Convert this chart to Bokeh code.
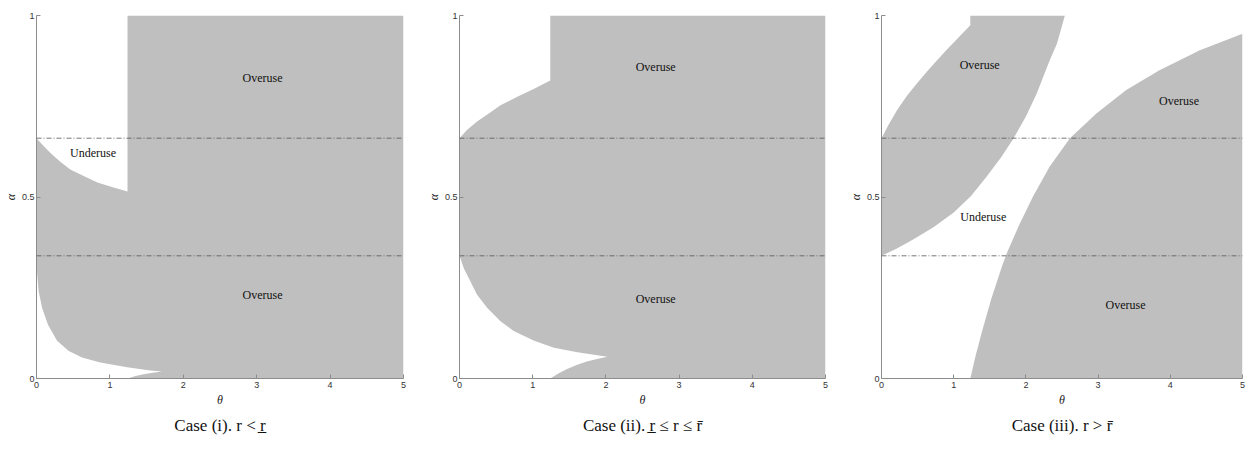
from bokeh.plotting import figure
from bokeh.models import Range1d, Span, Title, FixedTicker
from bokeh.layouts import row
from bokeh.core.properties import value
from bokeh.embed import file_html
from bokeh.resources import INLINE

# ---------------- data ----------------
x_ticks = [0, 1, 2, 3, 4, 5]
y_ticks = [0, 0.5, 1]
y_tick_labels = {0: "0", 0.5: "0.5", 1: "1"}
alpha_levels = [0.338, 0.662]

# Case (i)
p1_upper_theta = [0, 0.10, 0.19, 0.32, 0.46, 0.65, 0.83, 1.05, 1.24]
p1_upper_alpha = [0.662, 0.640, 0.621, 0.598, 0.576, 0.557, 0.540, 0.526, 0.515]
p1_lower_theta = [0, 0.01, 0.03, 0.077, 0.155, 0.28, 0.44, 0.62, 0.87, 1.235, 1.55, 1.71]
p1_lower_alpha = [0.338, 0.285, 0.240, 0.194, 0.149, 0.104, 0.076, 0.058, 0.044, 0.031, 0.022, 0.019]
p1_rise_theta = [1.24, 1.35, 1.46, 1.58, 1.71]
p1_rise_alpha = [0.0, 0.007, 0.012, 0.016, 0.019]
p1_label_text = ["Overuse", "Underuse", "Overuse"]
p1_label_theta = [3.08, 0.77, 3.08]
p1_label_alpha = [0.827, 0.622, 0.23]

# Case (ii)
p2_upper_theta = [0, 0.105, 0.24, 0.40, 0.56, 0.79, 1.02, 1.24]
p2_upper_alpha = [0.662, 0.685, 0.708, 0.730, 0.753, 0.776, 0.798, 0.821]
p2_lower_theta = [0, 0.06, 0.15, 0.24, 0.38, 0.56, 0.74, 1.02, 1.29, 1.61, 2.02]
p2_lower_alpha = [0.338, 0.303, 0.267, 0.231, 0.194, 0.158, 0.131, 0.104, 0.085, 0.072, 0.060]
p2_rise_theta = [1.24, 1.35, 1.47, 1.60, 1.74, 1.88, 2.02]
p2_rise_alpha = [0.0, 0.014, 0.026, 0.037, 0.047, 0.054, 0.060]
p2_label_text = ["Overuse", "Overuse"]
p2_label_theta = [2.68, 2.68]
p2_label_alpha = [0.858, 0.22]

# Case (iii)
p3_band_left_theta = [0, 0.10, 0.217, 0.35, 0.49, 0.63, 0.77, 0.91, 1.05, 1.23]
p3_band_left_alpha = [0.662, 0.700, 0.740, 0.778, 0.813, 0.846, 0.877, 0.907, 0.936, 0.973]
p3_band_right_theta = [0, 0.22, 0.45, 0.72, 1.00, 1.24, 1.46, 1.66, 1.83, 2.00, 2.15, 2.33, 2.43, 2.54]
p3_band_right_alpha = [0.338, 0.359, 0.384, 0.417, 0.457, 0.503, 0.557, 0.610, 0.662, 0.722, 0.785, 0.877, 0.922, 1.0]
p3_main_theta = [1.23, 1.30, 1.39, 1.52, 1.67, 1.74, 1.90, 2.10, 2.33, 2.61, 2.98, 3.39, 3.85, 4.41, 5.0]
p3_main_alpha = [0.0, 0.060, 0.128, 0.219, 0.310, 0.347, 0.420, 0.502, 0.584, 0.662, 0.731, 0.795, 0.849, 0.904, 0.95]
p3_label_text = ["Overuse", "Overuse", "Underuse", "Overuse"]
p3_label_theta = [1.36, 4.12, 1.41, 3.38]
p3_label_alpha = [0.863, 0.764, 0.446, 0.203]

captions = ["Case (i). r < r\u0332", "Case (ii). r\u0332 \u2264 r \u2264 r\u0304", "Case (iii). r > r\u0304"]

X0, X1, Y0, Y1 = 0, 5, 0, 1
GRAY = "#bfbfbf"
SERIF = "Liberation Serif"
H = 448


def make_fig(width, left, right, top, bottom, caption):
    p = figure(width=width, height=H, output_backend="svg", toolbar_location=None,
               x_range=Range1d(X0, X1), y_range=Range1d(Y0, Y1),
               min_border_left=left, min_border_right=right,
               min_border_top=top, min_border_bottom=bottom)
    p.outline_line_color = None
    p.grid.visible = False
    p.background_fill_color = "white"
    p.border_fill_color = "white"
    for ax in (p.xaxis[0], p.yaxis[0]):
        ax.axis_line_color = "#8c8c8c"
        ax.major_tick_line_color = "#8c8c8c"
        ax.minor_tick_line_color = None
        ax.major_tick_in = 4
        ax.major_tick_out = 0
        ax.major_label_text_font = "Liberation Sans"
        ax.major_label_text_font_size = "9px"
        ax.major_label_text_color = "#333333"
        ax.axis_label_text_font = SERIF
        ax.axis_label_text_font_style = "italic"
        ax.axis_label_text_font_size = "12px"
        ax.axis_label_text_color = "#222222"
        ax.major_label_standoff = 2
        ax.axis_label_standoff = 1
    p.xaxis.major_label_standoff = 3
    p.xaxis.axis_label_standoff = 2
    p.xaxis.ticker = FixedTicker(ticks=x_ticks)
    p.yaxis.ticker = FixedTicker(ticks=y_ticks)
    p.yaxis.major_label_overrides = y_tick_labels
    p.xaxis.axis_label = "\u03b8"
    p.yaxis.axis_label = "\u03b1"
    cap = Title(text=caption, align="center", text_font=SERIF, text_font_size="17px",
                text_font_style="normal", text_color="#111111", standoff=9)
    p.add_layout(cap, "below")
    return p


def add_levels(p):
    for lv in alpha_levels:
        p.add_layout(Span(location=lv, dimension="width", line_color="#555555",
                          line_width=0.8, line_dash="5 2 1 2"))


def add_labels(p, xs, ys, texts):
    p.text(x=xs, y=ys, text=texts, text_font=value(SERIF), text_font_size="12px",
           text_align="center", text_baseline="middle", text_color="#111111")


# ---- Case (i)
f1 = make_fig(423, 36, 20, 11, H - 378, captions[0])
xs = (p1_lower_theta + p1_rise_theta[::-1] + [X1, X1, p1_upper_theta[-1]] + p1_upper_theta[::-1])
ys = (p1_lower_alpha + p1_rise_alpha[::-1] + [Y0, Y1, Y1] + p1_upper_alpha[::-1])
f1.patch(xs, ys, fill_color=GRAY, line_color=None)
add_levels(f1)
add_labels(f1, p1_label_theta, p1_label_alpha, p1_label_text)

# ---- Case (ii)
f2 = make_fig(422, 36, 20, 11, H - 378, captions[1])
xs = (p2_lower_theta + p2_rise_theta[::-1] + [X1, X1, p2_upper_theta[-1]] + p2_upper_theta[::-1])
ys = (p2_lower_alpha + p2_rise_alpha[::-1] + [Y0, Y1, Y1] + p2_upper_alpha[::-1])
f2.patch(xs, ys, fill_color=GRAY, line_color=None)
add_levels(f2)
add_labels(f2, p2_label_theta, p2_label_alpha, p2_label_text)

# ---- Case (iii)
f3 = make_fig(402, 36, 5, 15, H - 380, captions[2])
xs = p3_band_left_theta + [p3_band_left_theta[-1]] + p3_band_right_theta[::-1]
ys = p3_band_left_alpha + [Y1] + p3_band_right_alpha[::-1]
f3.patch(xs, ys, fill_color=GRAY, line_color=None)
xs = p3_main_theta + [X1]
ys = p3_main_alpha + [Y0]
f3.patch(xs, ys, fill_color=GRAY, line_color=None)
add_levels(f3)
add_labels(f3, p3_label_theta, p3_label_alpha, p3_label_text)

layout = row(f1, f2, f3)
open("out.html", "w").write(file_html(layout, INLINE))
